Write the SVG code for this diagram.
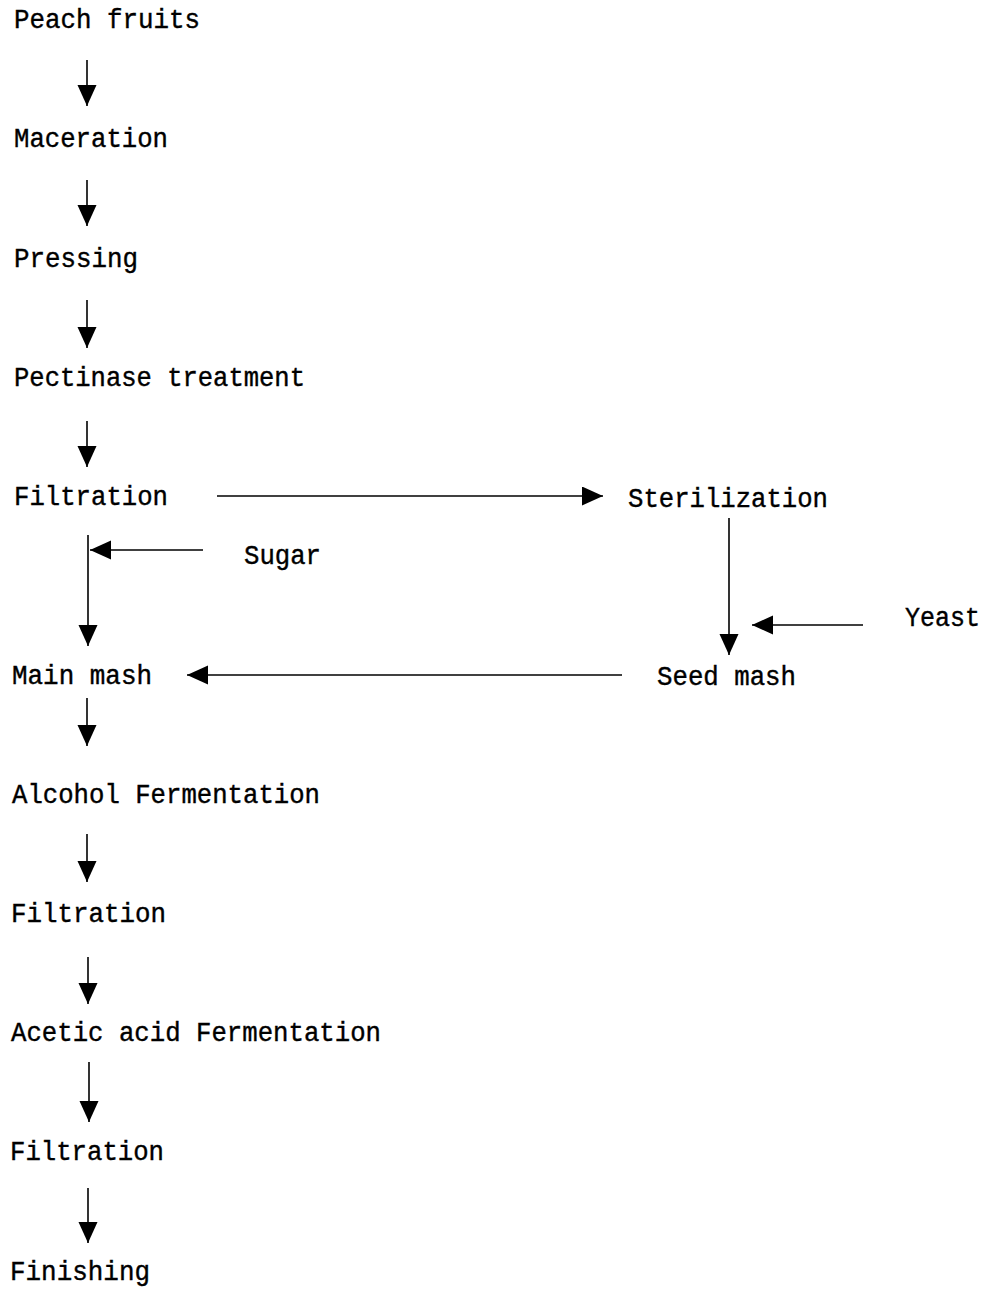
<svg xmlns="http://www.w3.org/2000/svg" width="985" height="1289" viewBox="0 0 985 1289">
<style>
  text { font-family: "Liberation Mono", "DejaVu Sans Mono", monospace; font-size: 27px; fill: #000; stroke: #000; stroke-width: 0.4; }
  .c line { stroke: #000; stroke-width: 1.6; }
</style>
<defs>
  <marker id="ah" markerUnits="userSpaceOnUse" markerWidth="24" markerHeight="20" refX="21" refY="9.5" orient="auto">
    <path d="M0,0 L21,9.5 L0,19 z" fill="#000"/>
  </marker>
</defs>
<rect width="985" height="1289" fill="#fff"/>
<g id="n1"><text x="14" y="28" textLength="186" lengthAdjust="spacingAndGlyphs">Peach fruits</text></g>
<g id="n2"><text x="14" y="147" textLength="154" lengthAdjust="spacingAndGlyphs">Maceration</text></g>
<g id="n3"><text x="14" y="267" textLength="124" lengthAdjust="spacingAndGlyphs">Pressing</text></g>
<g id="n4"><text x="14" y="386" textLength="291" lengthAdjust="spacingAndGlyphs">Pectinase treatment</text></g>
<g id="n5"><text x="14" y="505" textLength="154" lengthAdjust="spacingAndGlyphs">Filtration</text></g>
<g id="n6"><text x="628" y="507" textLength="200" lengthAdjust="spacingAndGlyphs">Sterilization</text></g>
<g id="n7"><text x="244" y="564" textLength="77" lengthAdjust="spacingAndGlyphs">Sugar</text></g>
<g id="n8"><text x="905" y="626" textLength="75" lengthAdjust="spacingAndGlyphs">Yeast</text></g>
<g id="n9"><text x="12" y="684" textLength="140" lengthAdjust="spacingAndGlyphs">Main mash</text></g>
<g id="n10"><text x="657" y="685" textLength="139" lengthAdjust="spacingAndGlyphs">Seed mash</text></g>
<g id="n11"><text x="12" y="803" textLength="308" lengthAdjust="spacingAndGlyphs">Alcohol Fermentation</text></g>
<g id="n12"><text x="11" y="922" textLength="155" lengthAdjust="spacingAndGlyphs">Filtration</text></g>
<g id="n13"><text x="11" y="1041" textLength="370" lengthAdjust="spacingAndGlyphs">Acetic acid Fermentation</text></g>
<g id="n14"><text x="10" y="1160" textLength="154" lengthAdjust="spacingAndGlyphs">Filtration</text></g>
<g id="n15"><text x="10" y="1280" textLength="140" lengthAdjust="spacingAndGlyphs">Finishing</text></g>
<g id="connectors" class="c">
  <line x1="87" y1="60" x2="87" y2="106" marker-end="url(#ah)"/>
  <line x1="87" y1="180" x2="87" y2="226" marker-end="url(#ah)"/>
  <line x1="87" y1="300" x2="87" y2="348" marker-end="url(#ah)"/>
  <line x1="87" y1="421" x2="87" y2="467" marker-end="url(#ah)"/>
  <line x1="88" y1="535" x2="88" y2="646" marker-end="url(#ah)"/>
  <line x1="203" y1="550" x2="90" y2="550" marker-end="url(#ah)"/>
  <line x1="217" y1="496" x2="603" y2="496" marker-end="url(#ah)"/>
  <line x1="729" y1="518" x2="729" y2="655" marker-end="url(#ah)"/>
  <line x1="863" y1="625" x2="752" y2="625" marker-end="url(#ah)"/>
  <line x1="622" y1="675" x2="187" y2="675" marker-end="url(#ah)"/>
  <line x1="87" y1="698" x2="87" y2="746" marker-end="url(#ah)"/>
  <line x1="87" y1="834" x2="87" y2="882" marker-end="url(#ah)"/>
  <line x1="88" y1="957" x2="88" y2="1004" marker-end="url(#ah)"/>
  <line x1="89" y1="1062" x2="89" y2="1122" marker-end="url(#ah)"/>
  <line x1="88" y1="1188" x2="88" y2="1243" marker-end="url(#ah)"/>
</g>
</svg>
